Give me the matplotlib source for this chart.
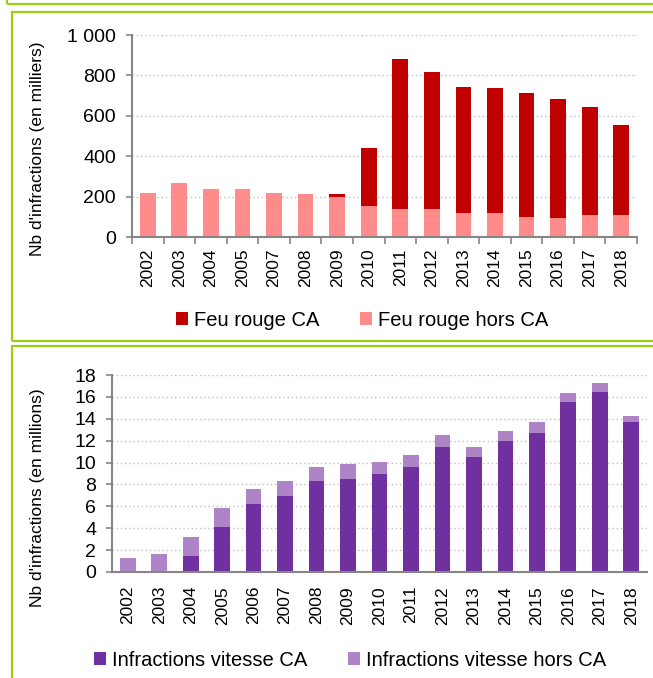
import matplotlib
matplotlib.use('Agg')
import matplotlib.pyplot as plt
import numpy as np
from matplotlib.patches import Rectangle

plt.rcParams['font.family'] = ['Liberation Sans', 'DejaVu Sans']

# feux rouges (en milliers) - pas de 2006 dans la serie
years_feu = ['2002', '2003', '2004', '2005', '2007', '2008', '2009', '2010',
             '2011', '2012', '2013', '2014', '2015', '2016', '2017', '2018']
feu_hors_ca = [219, 267, 236, 236, 219, 211, 196, 155,
               140, 140, 117, 117, 100, 92, 107, 107]
feu_ca = [0, 0, 0, 0, 0, 0, 15, 288,
          741, 679, 628, 621, 613, 590, 536, 448]

# vitesse (en millions)
years_vit = [str(y) for y in range(2002, 2019)]
vit_ca = [0, 0, 1.45, 4.11, 6.17, 6.93, 8.32, 8.50, 8.98,
          9.59, 11.43, 10.53, 11.98, 12.70, 15.52, 16.48, 13.70]
vit_hors_ca = [1.30, 1.60, 1.73, 1.73, 1.39, 1.42, 1.27, 1.39, 1.09,
               1.12, 1.12, 0.93, 0.91, 0.97, 0.81, 0.79, 0.58]

RED = '#C00000'
PINK = '#FF8B8B'
PURPLE = '#7030A0'
LILAC = '#AE84C6'
GREEN = '#9ACD14'
GREY = '#868686'

W, H = 653, 678
fig = plt.figure(figsize=(W / 100, H / 100), dpi=100)


def px_rect(x0, y0, x1, y1):
    # rectangle in pixel coords (top-left origin) -> figure fraction
    return Rectangle((x0 / W, 1 - y1 / H), (x1 - x0) / W, (y1 - y0) / H,
                     transform=fig.transFigure, fill=False,
                     edgecolor=GREEN, linewidth=1.6, clip_on=False)


# green frames
fig.patches.append(px_rect(7, -20, 700, 3.5))
fig.patches.append(px_rect(11.5, 11.5, 700, 341))
fig.patches.append(px_rect(11.5, 345.5, 700, 720))


def style_axis(ax):
    for s in ['top', 'right']:
        ax.spines[s].set_visible(False)
    for s in ['left', 'bottom']:
        ax.spines[s].set_color(GREY)
        ax.spines[s].set_linewidth(1.5)
    ax.yaxis.grid(True, linestyle=(0, (1, 2)), color='#BFBFBF', linewidth=1)
    ax.set_axisbelow(True)
    ax.tick_params(axis='y', colors=GREY, labelcolor='black', length=4.5,
                   width=1.2, labelsize=14, pad=7)


legend_kw = dict(loc='center', ncol=2, frameon=False, fontsize=14.5,
                 handlelength=0.6, handleheight=0.6, handletextpad=0.32,
                 columnspacing=2.0)

# ---- top chart : feux rouges
ax1 = fig.add_axes([132 / W, 1 - 237 / H, 505 / W, 202 / H])
x1 = np.arange(len(years_feu))
b1 = ax1.bar(x1, feu_hors_ca, width=0.5, color=PINK, label='Feu rouge hors CA')
b2 = ax1.bar(x1, feu_ca, width=0.5, bottom=feu_hors_ca, color=RED,
             label='Feu rouge CA')
ax1.set_xlim(-0.5, len(years_feu) - 0.5)
ax1.set_ylim(0, 1000)
ax1.set_yticks(range(0, 1001, 200))
ax1.set_yticklabels(['0', '200', '400', '600', '800', '1 000'])
ax1.set_xticks(x1)
ax1.set_xticklabels(years_feu, rotation=90)
ax1.set_xticks(np.arange(len(years_feu) + 1) - 0.5, minor=True)
style_axis(ax1)
ax1.tick_params(axis='x', which='major', length=0, labelsize=12.5, pad=8)
ax1.tick_params(axis='x', which='minor', length=5, width=1.2, colors=GREY)
ax1.set_ylabel("Nb d'infractions (en milliers)", fontsize=12.5)
ax1.yaxis.set_label_coords(-0.172, 0.436)
fig.legend(handles=[b2, b1], labels=['Feu rouge CA', 'Feu rouge hors CA'],
           bbox_to_anchor=(362 / W, 1 - 320 / H), **legend_kw)

# ---- bottom chart : vitesse
ax2 = fig.add_axes([112 / W, 1 - 572 / H, 535 / W, 197 / H])
x2 = np.arange(len(years_vit))
c1 = ax2.bar(x2, vit_ca, width=0.5, color=PURPLE, label='Infractions vitesse CA')
c2 = ax2.bar(x2, vit_hors_ca, width=0.5, bottom=vit_ca, color=LILAC,
             label='Infractions vitesse hors CA')
ax2.set_xlim(-0.5, len(years_vit) - 0.5)
ax2.set_ylim(0, 18)
ax2.set_yticks(range(0, 19, 2))
ax2.set_xticks(x2)
ax2.set_xticklabels(years_vit, rotation=90)
style_axis(ax2)
ax2.tick_params(axis='x', length=0, labelsize=12.5, pad=10)
ax2.set_ylabel("Nb d'infractions (en millions)", fontsize=12.5)
ax2.yaxis.set_label_coords(-0.125, 0.376)
fig.legend(handles=[c1, c2],
           labels=['Infractions vitesse CA', 'Infractions vitesse hors CA'],
           bbox_to_anchor=(350 / W, 1 - 660 / H), **legend_kw)

fig.savefig('out.png', dpi=100)
